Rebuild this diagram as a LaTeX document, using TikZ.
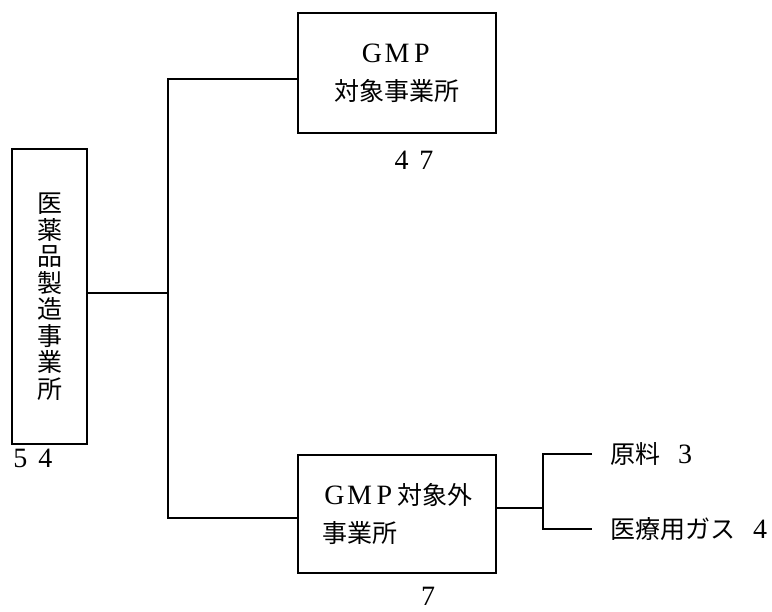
\documentclass[tikz,border=0pt]{standalone}
\usepackage{fontspec}
\setmainfont{Liberation Serif}
\newfontfamily\jp{Noto Sans CJK JP}
\usetikzlibrary{positioning}
\newcommand\fw[1]{\makebox[25pt]{\rmfamily\fontsize{28}{28}\selectfont #1}}

\begin{document}
\begin{tikzpicture}[
x=1pt, y=-1pt,
box/.style={draw, line width=2.8pt, inner sep=0pt, font=\fontsize{25}{38}\selectfont\jp},
link/.style={line width=2.4pt},
num/.style={inner sep=0pt, font=\fontsize{25}{30}\selectfont\jp}
]

%% Frame
\useasboundingbox (0,0) rectangle (772,612);

%% Boxes
\node[box, minimum width=75pt, minimum height=295pt, align=center,
  font=\fontsize{25}{26.5}\selectfont\jp] (plant) at (49.5,296.5)
  {医\\薬\\品\\製\\造\\事\\業\\所};
\node[box, minimum width=198pt, minimum height=120pt, align=center] (gmp) at (397,73)
  {\fw{G}\fw{M}\fw{P}\\対象事業所};
\node[box, minimum width=198pt, minimum height=118pt, align=left] (nongmp) at (397,514)
  {\fw{G}\fw{M}\fw{P}対象外\\事業所};

%% Counts
\node[num] (plantn) at (33,458) {\fw{5}\fw{4}};
\node[num] (gmpn) at (414,160) {\fw{4}\fw{7}};
\node[num] (nongmpn) at (428,596) {\fw{7}};

%% Links
\coordinate (split) at (168,293);
\draw[link] (plant.east |- split) -- (split);
\draw[link] ([yshift=-6pt]gmp.west) -| (split) |- ([yshift=-4pt]nongmp.west);

% % Fork
\coordinate (fork) at (543,508);
\coordinate (rawend) at (592,454);
\coordinate (gasend) at (592,529);
\draw[link] ([yshift=6pt]nongmp.east) -- (fork);
\draw[link] (rawend) -| (fork) |- (gasend);

\node[num, right=18pt of rawend] (raw) {原料\hspace{12.5pt}\fw{3}};
\node[num, right=18pt of gasend] (gas) {医療用ガス\hspace{12.5pt}\fw{4}};

\end{tikzpicture}
\end{document}
